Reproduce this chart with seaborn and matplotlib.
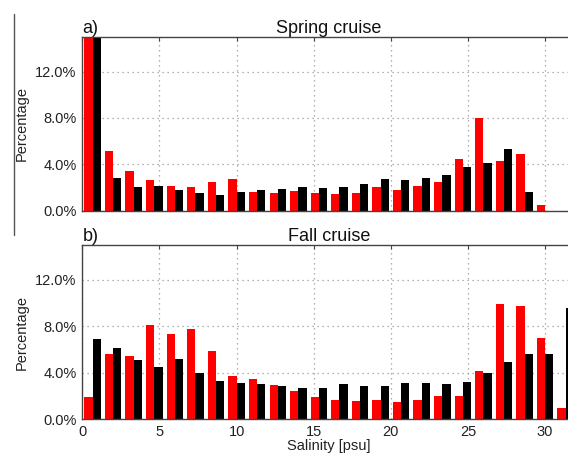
import matplotlib
matplotlib.use("Agg")
import matplotlib.pyplot as plt
from matplotlib.ticker import PercentFormatter, MultipleLocator
from matplotlib.lines import Line2D
import seaborn as sns
import pandas as pd

# Salinity bin centres (psu), bins of 4/3 psu from 0 to 32
bin_centers = [0.667, 2.0, 3.333, 4.667, 6.0, 7.333, 8.667, 10.0, 11.333, 12.667,
               14.0, 15.333, 16.667, 18.0, 19.333, 20.667, 22.0, 23.333, 24.667,
               26.0, 27.333, 28.667, 30.0, 31.333]

series_names = ["Series 1", "Series 2"]
series_colors = ["#ff0000", "#000000"]

spring_red = [20.0, 5.16, 3.44, 2.64, 2.12, 2.04, 2.49, 2.70, 1.58, 1.52,
              1.66, 1.52, 1.43, 1.52, 2.04, 1.75, 2.12, 2.49, 4.42, 8.03,
              4.27, 4.87, 0.46, 0.0]
spring_black = [20.0, 2.78, 2.04, 2.12, 1.81, 1.49, 1.35, 1.58, 1.75, 1.89,
                2.04, 1.98, 2.04, 2.27, 2.75, 2.61, 2.78, 3.10, 3.78, 4.07,
                5.33, 1.58, 0.0, 0.0]

fall_red = [1.92, 5.65, 5.42, 8.11, 7.37, 7.80, 5.88, 3.70, 3.50, 2.95,
            2.44, 1.92, 1.69, 1.55, 1.63, 1.46, 1.69, 1.98, 1.98, 4.16,
            9.92, 9.75, 6.97, 0.95]
fall_black = [6.88, 6.11, 5.13, 4.53, 5.19, 4.01, 3.27, 3.10, 3.01, 2.87,
              2.67, 2.67, 3.01, 2.87, 2.87, 3.10, 3.10, 3.01, 3.18, 4.01,
              4.93, 5.65, 5.65, 9.55]

panel_labels = ["a)", "b)"]
panel_titles = ["Spring cruise", "Fall cruise"]
x_ticks = [0, 5, 10, 15, 20, 25, 30]
y_ticks = [0, 4, 8, 12]


def make_df(red, black):
    return pd.DataFrame({
        "salinity": bin_centers * 2,
        "pct": list(red) + list(black),
        "series": [series_names[0]] * len(red) + [series_names[1]] * len(black),
    })


sns.set_theme(style="white")
plt.rcParams["font.family"] = ["Liberation Sans", "DejaVu Sans"]

W, H = 568, 459
fig = plt.figure(figsize=(W / 100, H / 100), dpi=100)

left = 82.3 / W
width = (576 - 82.3) / W
ax_top = fig.add_axes([left, 1 - 210.7 / H, width, 174.0 / H])
ax_bot = fig.add_axes([left, 1 - 419.3 / H, width, 174.3 / H])

datasets = [(spring_red, spring_black), (fall_red, fall_black)]
for i, (ax, (red, black)) in enumerate(zip([ax_top, ax_bot], datasets)):
    df = make_df(red, black)
    sns.barplot(data=df, x="salinity", y="pct", hue="series",
                hue_order=series_names, palette=series_colors,
                native_scale=True, width=0.8, dodge=True,
                saturation=1, legend=False, ax=ax, linewidth=0, errorbar=None)
    ax.set_xlim(0, 32)
    ax.set_ylim(0, 15)
    ax.set_xticks(x_ticks)
    ax.set_yticks(y_ticks)
    ax.yaxis.set_major_formatter(PercentFormatter(xmax=100, decimals=1))
    ax.grid(True, linestyle=(0, (1, 3)), color="#999999", linewidth=0.9)
    ax.set_axisbelow(True)
    for sp in ax.spines.values():
        sp.set_color("#444444")
        sp.set_linewidth(1.0)
        sp.set_visible(True)
    ax.tick_params(direction="in", length=3, width=0.8, color="#444444",
                   top=True, right=True, labelsize=10.5, labelcolor="#222222",
                   pad=4)
    ax.set_ylabel("Percentage", fontsize=10.5, color="#222222", labelpad=5)
    ax.set_title(panel_titles[i], fontsize=13, pad=3, color="#111111")
    ax.set_title(panel_labels[i], fontsize=13, pad=3, loc="left", color="#111111")
    if i == 0:
        ax.set_xlabel("")
        ax.tick_params(labelbottom=False)
    else:
        ax.set_xlabel("Salinity [psu]", fontsize=10.5, color="#222222", labelpad=0)

fig.add_artist(Line2D([14.3 / W, 14.3 / W], [1 - 14 / H, 1 - 235 / H],
                      transform=fig.transFigure, color="#555555", linewidth=1.0))

fig.savefig("out.png", dpi=100)
